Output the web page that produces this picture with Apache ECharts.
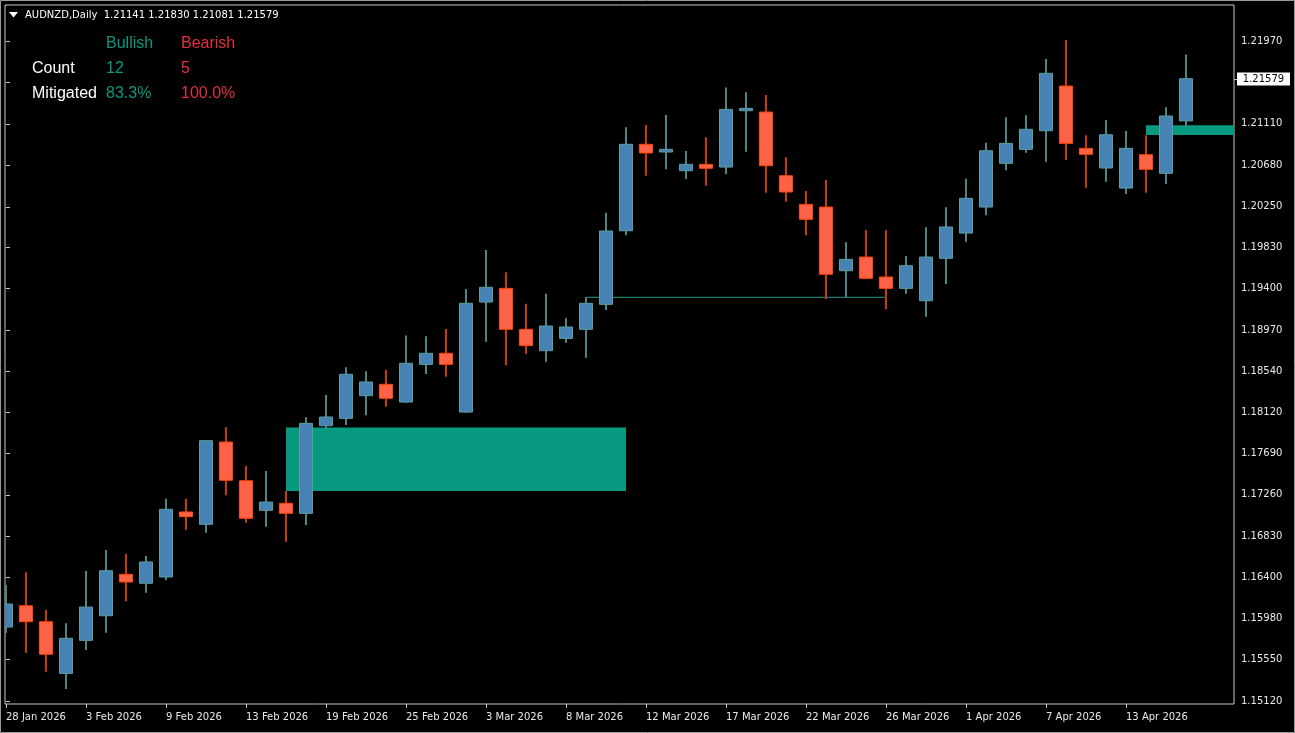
<!DOCTYPE html>
<html><head><meta charset="utf-8">
<script src="https://cdn.jsdelivr.net/npm/echarts@6/dist/echarts.min.js"></script>
<style>html,body{margin:0;padding:0;background:#000;}#c{width:1295px;height:733px;}</style>
</head><body><div id="c"></div>
<script>
const symbolName = 'AUDNZD,Daily';
const dates = ['28 Jan 2026','29 Jan 2026','30 Jan 2026','2 Feb 2026','3 Feb 2026','4 Feb 2026','5 Feb 2026','6 Feb 2026','9 Feb 2026','10 Feb 2026',
'11 Feb 2026','12 Feb 2026','13 Feb 2026','16 Feb 2026','17 Feb 2026','18 Feb 2026','19 Feb 2026','20 Feb 2026','23 Feb 2026','24 Feb 2026',
'25 Feb 2026','26 Feb 2026','27 Feb 2026','2 Mar 2026','3 Mar 2026','4 Mar 2026','5 Mar 2026','6 Mar 2026','8 Mar 2026','9 Mar 2026',
'10 Mar 2026','11 Mar 2026','12 Mar 2026','13 Mar 2026','15 Mar 2026','16 Mar 2026','17 Mar 2026','18 Mar 2026','19 Mar 2026','20 Mar 2026',
'22 Mar 2026','23 Mar 2026','24 Mar 2026','25 Mar 2026','26 Mar 2026','27 Mar 2026','30 Mar 2026','31 Mar 2026','1 Apr 2026','2 Apr 2026',
'3 Apr 2026','6 Apr 2026','7 Apr 2026','8 Apr 2026','9 Apr 2026','10 Apr 2026','13 Apr 2026','14 Apr 2026','15 Apr 2026','16 Apr 2026'];
const opens = [
1.15888,1.16109,1.15943,1.15407,1.15750,1.16005,1.16435,1.16342,1.16407,1.17082,
1.16954,1.17808,1.17406,1.17099,1.17172,1.17068,1.17977,1.18054,1.18289,1.18407,
1.18223,1.18614,1.18729,1.18119,1.19261,1.19403,1.18978,1.18756,1.18884,1.18978,
1.19237,1.20001,1.20898,1.20818,1.20624,1.20690,1.20662,1.21247,1.21233,1.20572,
1.20275,1.20247,1.19586,1.19728,1.19521,1.19403,1.19275,1.19715,1.19977,1.20247,
1.20701,1.20846,1.21039,1.21503,1.20856,1.20652,1.20444,1.20790,1.20597,1.21141];
const highs = [
1.16324,1.16456,1.16064,1.15926,1.16469,1.16687,1.16649,1.16625,1.17220,1.17220,
1.17829,1.17961,1.17559,1.17507,1.17299,1.18064,1.18296,1.18583,1.18542,1.18555,
1.18915,1.18905,1.18981,1.19396,1.19801,1.19569,1.19243,1.19347,1.19092,1.19310,
1.20188,1.21074,1.21098,1.21202,1.20828,1.20971,1.21489,1.21438,1.21410,1.20763,
1.20413,1.20527,1.19881,1.20008,1.20008,1.19739,1.20036,1.20244,1.20541,1.20914,
1.21178,1.21199,1.21783,1.21980,1.20991,1.21150,1.21036,1.20991,1.21282,1.21830];
const lows = [
1.15826,1.15621,1.15424,1.15244,1.15649,1.15829,1.16155,1.16244,1.16373,1.16895,
1.16867,1.17255,1.16970,1.16929,1.16773,1.16947,1.17943,1.17985,1.18085,1.18174,
1.18216,1.18514,1.18486,1.18112,1.18849,1.18604,1.18721,1.18641,1.18839,1.18683,
1.19178,1.19953,1.20572,1.20638,1.20538,1.20468,1.20587,1.20821,1.20396,1.20302,
1.19953,1.19292,1.19313,1.19497,1.19185,1.19347,1.19109,1.19448,1.19887,1.20161,
1.20628,1.20811,1.20717,1.20735,1.20447,1.20510,1.20382,1.20396,1.20486,1.21081];
const closes = [
1.16127,1.15943,1.15605,1.15771,1.16095,1.16472,1.16355,1.16563,1.17110,1.17033,
1.17822,1.17411,1.17016,1.17185,1.17068,1.18002,1.18068,1.18511,1.18431,1.18262,
1.18625,1.18729,1.18614,1.19248,1.19414,1.18978,1.18808,1.19012,1.19002,1.19248,
1.19998,1.20898,1.20808,1.20846,1.20690,1.20649,1.21261,1.21271,1.20676,1.20403,
1.20119,1.19549,1.19704,1.19507,1.19403,1.19638,1.19728,1.20040,1.20337,1.20831,
1.20908,1.21054,1.21635,1.20908,1.20794,1.20997,1.20856,1.20638,1.21192,1.21579];
const priceTicks = [1.15120,1.15550,1.15980,1.16400,1.16830,1.17260,1.17690,1.18120,1.18540,1.18970,1.19400,1.19830,1.20250,1.20680,1.21110,1.21540,1.21970];
const priceLabels = [1.15120,1.15550,1.15980,1.16400,1.16830,1.17260,1.17690,1.18120,1.18540,1.18970,1.19400,1.19830,1.20250,1.20680,1.21110,1.21970];
const dateLabelIdx = [0,4,8,12,16,20,24,28,32,36,40,44,48,52,56];
// zones: start bar, end bar, top, bottom, extend to right edge
const zoneStart = [14, 57];
const zoneEnd = [31, 59];
const zoneTop = [1.17958, 1.21095];
const zoneBottom = [1.17300, 1.20995];
const zoneExtend = [false, true];
// mitigated level line
const levelStart = 29, levelEnd = 44, levelPrice = 1.19310;
// stats table
const statHeads = ['Bullish', 'Bearish'];
const statRows = ['Count', 'Mitigated'];
const bullStats = ['12', '83.3%'];
const bearStats = ['5', '100.0%'];

const BULL_FILL = '#4682B4', BULL_BORDER = '#5F9EA0', BULL_WICK = '#4E8587';
const BEAR_FILL = '#FF6347', BEAR_BORDER = '#FF4500', BEAR_WICK = '#C93A08';
const ZONE = '#089981', BULLTXT = '#089981', BEARTXT = '#E0303E';
const MT = 'DejaVu Sans';

const candleData = opens.map((o, i) => [i, o, closes[i], lows[i], highs[i]]);
const zoneData = zoneStart.map((s, i) => [s, zoneEnd[i], zoneTop[i], zoneBottom[i], zoneExtend[i] ? 1 : 0]);
const last = opens.length - 1;

const chart = echarts.init(document.getElementById('c'), null, {renderer: 'canvas'});

const gfx = [
  {type: 'rect', shape: {x: 0.5, y: 0.5, width: 1294, height: 732}, style: {fill: 'none', stroke: '#9a9a9a', lineWidth: 1}, z: 100},
  {type: 'polygon', shape: {points: [[9, 12], [18, 12], [13.5, 17.5]]}, style: {fill: '#fff'}, z: 100},
  {type: 'text', x: 25, y: 15, style: {text: symbolName + '  ' + [opens[last], highs[last], lows[last], closes[last]].map(v => v.toFixed(5)).join(' '),
    fill: '#fff', font: '10px "' + MT + '"', verticalAlign: 'middle'}, z: 100}
];
const colX = [106, 181];
statHeads.forEach((h, i) => gfx.push({type: 'text', x: colX[i], y: 44, style: {text: h, fill: i ? BEARTXT : BULLTXT, font: '16px "Liberation Sans"', verticalAlign: 'middle'}, z: 100}));
statRows.forEach((r, j) => {
  const y = 69 + j * 25;
  gfx.push({type: 'text', x: 32, y: y, style: {text: r, fill: '#fff', font: '16px "Liberation Sans"', verticalAlign: 'middle'}, z: 100});
  gfx.push({type: 'text', x: colX[0], y: y, style: {text: bullStats[j], fill: BULLTXT, font: '16px "Liberation Sans"', verticalAlign: 'middle'}, z: 100});
  gfx.push({type: 'text', x: colX[1], y: y, style: {text: bearStats[j], fill: BEARTXT, font: '16px "Liberation Sans"', verticalAlign: 'middle'}, z: 100});
});

chart.setOption({
  backgroundColor: '#000',
  animation: false,
  grid: {left: 5, right: 61, top: 5, bottom: 29, show: true, borderColor: '#c8c8c8', borderWidth: 1, backgroundColor: 'transparent'},
  xAxis: {
    type: 'value', min: -0.05, max: 61.4,
    splitLine: {show: false},
    axisLine: {show: false},
    axisTick: {show: true, customValues: dateLabelIdx, length: 4, lineStyle: {color: '#c8c8c8'}},
    axisLabel: {show: true, customValues: dateLabelIdx, formatter: v => dates[v] || '', align: 'left', margin: 8,
      color: '#e8e8e8', fontFamily: MT, fontSize: 10}
  },
  yAxis: {
    type: 'value', position: 'right', min: 1.15089, max: 1.22344, scale: true,
    splitLine: {show: false},
    axisLine: {show: false},
    axisTick: {show: true, customValues: priceTicks, length: 4, lineStyle: {color: '#c8c8c8'}},
    axisLabel: {show: true, customValues: priceLabels, formatter: v => v.toFixed(5), align: 'left', margin: 7,
      color: '#e8e8e8', fontFamily: MT, fontSize: 10}
  },
  graphic: gfx,
  series: [
    {
      type: 'custom', name: 'zones', clip: true, z: 1,
      data: zoneData,
      renderItem: (params, api) => {
        const a = api.coord([api.value(0), api.value(2)]);
        const b = api.coord([api.value(1), api.value(3)]);
        const cs = params.coordSys;
        const x2 = api.value(4) ? cs.x + cs.width : b[0];
        return {type: 'rect', shape: {x: a[0], y: a[1], width: x2 - a[0], height: b[1] - a[1]}, style: {fill: ZONE}};
      }
    },
    {
      type: 'line', name: 'level', z: 2, symbol: 'none', silent: true,
      data: [[levelStart, levelPrice], [levelEnd, levelPrice]],
      lineStyle: {color: '#1b9c85', width: 1}
    },
    {
      type: 'custom', name: 'candles', clip: true, z: 3,
      data: candleData,
      renderItem: (params, api) => {
        const i = api.value(0), o = api.value(1), c = api.value(2), l = api.value(3), h = api.value(4);
        const pO = api.coord([i, o]), pC = api.coord([i, c]), pL = api.coord([i, l]), pH = api.coord([i, h]);
        const w = Math.round(api.size([1, 0])[0] * 0.65);
        const bull = c >= o;
        const x = Math.round(pO[0]);
        const top = Math.min(pO[1], pC[1]), bot = Math.max(pO[1], pC[1]);
        return {type: 'group', children: [
          {type: 'line', shape: {x1: x, y1: pH[1], x2: x, y2: pL[1]}, style: {stroke: bull ? BULL_WICK : BEAR_WICK, lineWidth: 2}},
          {type: 'rect', shape: {x: x - w / 2, y: top, width: w, height: Math.max(bot - top, 2)},
            style: {fill: bull ? BULL_FILL : BEAR_FILL, stroke: bull ? BULL_BORDER : BEAR_BORDER, lineWidth: 1}}
        ]};
      }
    },
    {
      type: 'custom', name: 'lastPrice', clip: false, z: 10, silent: true,
      data: [[last, closes[last]]],
      renderItem: (params, api) => {
        const p = api.coord([api.value(0), api.value(1)]);
        const cs = params.coordSys;
        const x0 = cs.x + cs.width + 3;
        const y = Math.round(p[1]);
        return {type: 'group', children: [
          {type: 'line', shape: {x1: cs.x + cs.width, y1: y + 0.5, x2: x0, y2: y + 0.5}, style: {stroke: '#c8c8c8', lineWidth: 1}},
          {type: 'rect', shape: {x: x0, y: y - 6.5, width: 53, height: 13}, style: {fill: '#fff'}},
          {type: 'text', x: x0 + 26.5, y: y, style: {text: api.value(1).toFixed(5), fill: '#000', font: '10px "' + MT + '"', align: 'center', verticalAlign: 'middle'}}
        ]};
      }
    }
  ]
});
</script></body></html>
